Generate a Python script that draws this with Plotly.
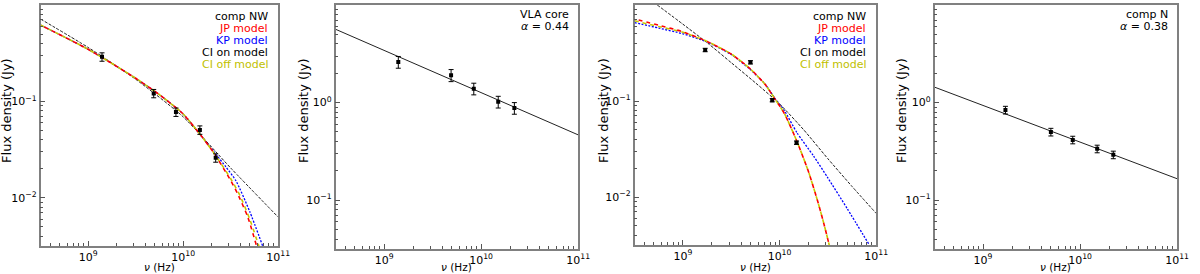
import plotly.graph_objects as go

# ---------------- data (frequency in Hz, flux density in Jy) ----------------
# Panel 1: comp NW, VLA
p1_freq = [1.4e9, 4.9e9, 8.4e9, 15.0e9, 22.0e9]
p1_flux = [0.29, 0.121, 0.0776, 0.0506, 0.026]
p1_err = [0.029, 0.012, 0.0078, 0.0051, 0.0026]

p1_jp_freq = [3.16e8, 1e9, 3.16e9, 5.62e9, 1e10, 1.585e10, 2.14e10, 3.16e10, 3.75e10, 4.79e10, 5.96e10]
p1_jp_flux = [0.619, 0.347, 0.174, 0.1175, 0.0741, 0.0427, 0.0285, 0.01514, 0.01096, 0.00631, 0.00309]
p1_kp_freq = [3.16e8, 1e9, 3.16e9, 5.62e9, 1e10, 1.585e10, 2.14e10, 2.82e10, 3.59e10, 5.01e10, 6.93e10]
p1_kp_flux = [0.619, 0.347, 0.174, 0.1175, 0.0741, 0.0427, 0.0295, 0.0209, 0.01503, 0.00724, 0.00309]
p1_cioff_freq = [3.16e8, 1e9, 3.16e9, 5.62e9, 1e10, 1.585e10, 2.14e10, 3.16e10, 3.98e10, 5.01e10, 6.31e10]
p1_cioff_flux = [0.619, 0.347, 0.174, 0.1175, 0.0741, 0.0427, 0.0285, 0.01585, 0.01047, 0.00603, 0.00309]
p1_cion_freq = [3.16e8, 1e9, 3.16e9, 1e10, 3.16e10, 1e11]
p1_cion_flux = [0.715, 0.363, 0.170, 0.0692, 0.0204, 0.0063]

# Panel 2: VLA core
p2_freq = [1.4e9, 4.9e9, 8.4e9, 15.0e9, 22.0e9]
p2_flux = [2.61, 1.91, 1.39, 1.02, 0.88]
p2_err = [0.36, 0.27, 0.19, 0.14, 0.12]
p2_fit_freq = [3.16e8, 1e11]
p2_fit_flux = [5.64, 0.467]

# Panel 3: comp NW, VLBA
p3_freq = [1.7e9, 5.0e9, 8.4e9, 15.0e9]
p3_flux = [0.34, 0.253, 0.102, 0.0368]
p3_err = [0.014, 0.010, 0.004, 0.0015]

p3_jp_freq = [3.16e8, 5.62e8, 1e9, 1.78e9, 3.16e9, 5.01e9, 7.08e9, 8.91e9, 1.122e10, 1.514e10, 2.0e10, 2.51e10, 2.88e10, 3.27e10]
p3_jp_flux = [0.715, 0.617, 0.525, 0.417, 0.309, 0.215, 0.149, 0.106, 0.0741, 0.0380, 0.0182, 0.0087, 0.00525, 0.00316]
p3_cioff_freq = [3.16e8, 5.62e8, 1e9, 1.78e9, 3.16e9, 5.01e9, 7.08e9, 8.91e9, 1.122e10, 1.514e10, 2.0e10, 2.51e10, 2.88e10, 3.27e10]
p3_cioff_flux = [0.684, 0.596, 0.520, 0.417, 0.309, 0.215, 0.149, 0.106, 0.0741, 0.0380, 0.0182, 0.0087, 0.00525, 0.00316]
p3_kp_freq = [3.16e8, 5.62e8, 1e9, 1.78e9, 3.16e9, 5.01e9, 7.08e9, 8.91e9, 1.122e10, 1.514e10, 2.24e10, 3.16e10, 5.01e10, 8.51e10]
p3_kp_flux = [0.655, 0.575, 0.501, 0.412, 0.305, 0.212, 0.150, 0.1076, 0.0794, 0.0468, 0.0269, 0.01585, 0.00759, 0.00316]
p3_cion_freq = [5.43e8, 1e9, 1.82e9, 3.16e9, 5.62e9, 1e10, 1.78e10, 3.16e10, 5.62e10, 1e11]
p3_cion_flux = [1.0, 0.631, 0.398, 0.251, 0.155, 0.0933, 0.0501, 0.0251, 0.0129, 0.00676]

# Panel 4: comp N
p4_freq = [1.7e9, 5.0e9, 8.4e9, 15.0e9, 22.0e9]
p4_flux = [0.84, 0.50, 0.415, 0.336, 0.292]
p4_err = [0.076, 0.045, 0.037, 0.030, 0.026]
p4_fit_freq = [3.16e8, 1e11]
p4_fit_flux = [1.44, 0.166]

# axis ticks
x_tickvals = [1e9, 1e10, 1e11]
x_ticktext = ["10<sup>9</sup>", "10<sup>10</sup>", "10<sup>11</sup>"]
y_tickvals_a = [1e-2, 1e-1, 1e0]
y_ticktext_a = ["10<sup>−2</sup>", "10<sup>−1</sup>", "10<sup>0</sup>"]
y_tickvals_b = [1e-1, 1e0, 1e1]
y_ticktext_b = ["10<sup>−1</sup>", "10<sup>0</sup>", "10<sup>1</sup>"]

legend_labels = ["comp NW", "JP model", "KP model", "CI on model", "CI off model"]
legend_colors = ["black", "#ff0000", "#0000ff", "black", "#bfbf00"]

# ---------------- figure ----------------
W, H = 1200, 274
FONT = "DejaVu Sans"
RED, BLUE, YEL = "#ff0000", "#0000ff", "#c8c800"

# plot-area rectangles in pixels: (left, right, top, bottom)
boxes = [(41, 281, 5, 246), (339, 584, 5, 249), (641, 885, 5, 245), (944, 1189, 5, 249)]

fig = go.Figure()

def add_line(i, x, y, color, dash, width):
    fig.add_trace(go.Scatter(x=x, y=y, mode="lines", line=dict(color=color, dash=dash, width=width, shape="spline", smoothing=0.6),
                             xaxis=f"x{i}", yaxis=f"y{i}", showlegend=False, hoverinfo="skip"))

def add_points(i, x, y, e):
    fig.add_trace(go.Scatter(x=x, y=y, mode="markers", marker=dict(color="black", size=4, symbol="square"),
                             error_y=dict(type="data", array=e, color="black", thickness=1, width=2.5),
                             xaxis=f"x{i}", yaxis=f"y{i}", showlegend=False))

# panel 1
add_line(1, p1_kp_freq, p1_kp_flux, BLUE, "2px,1.5px", 1.3)
add_line(1, p1_cion_freq, p1_cion_flux, "black", "3px,1.5px", 0.9)
add_line(1, p1_cioff_freq, p1_cioff_flux, YEL, "4px,4px", 1.6)
add_line(1, p1_jp_freq, p1_jp_flux, RED, "0px,4px,4px,0px", 1.6)
add_points(1, p1_freq, p1_flux, p1_err)

# panel 2
add_line(2, p2_fit_freq, p2_fit_flux, "#222222", "solid", 1)
add_points(2, p2_freq, p2_flux, p2_err)

# panel 3
add_line(3, p3_kp_freq, p3_kp_flux, BLUE, "2px,1.5px", 1.3)
add_line(3, p3_cion_freq, p3_cion_flux, "black", "3px,1.5px", 0.9)
add_line(3, p3_cioff_freq, p3_cioff_flux, YEL, "4px,4px", 1.6)
add_line(3, p3_jp_freq, p3_jp_flux, RED, "0px,4px,4px,0px", 1.6)
add_points(3, p3_freq, p3_flux, p3_err)

# panel 4
add_line(4, p4_fit_freq, p4_fit_flux, "#222222", "solid", 1)
add_points(4, p4_freq, p4_flux, p4_err)

minor_x = [m * 10 ** e for e in range(8, 11) for m in range(2, 10)]
minor_y = [m * 10 ** e for e in range(-3, 1) for m in range(2, 10)]

layout = dict(width=W, height=H, margin=dict(l=0, r=0, t=0, b=0), paper_bgcolor="white", plot_bgcolor="white",
              font=dict(family=FONT, size=11, color="black"), showlegend=False)

annotations = []
for i, (l, r, t, b) in enumerate(boxes, start=1):
    sfx = "" if i == 1 else str(i)
    yr = [-2.5, 0] if i in (1, 3) else [-1.5, 1]
    common = dict(type="log", showline=True, linecolor="#808080", linewidth=1.5, mirror=True, showgrid=False,
                  zeroline=False, ticks="inside", ticklen=5, tickwidth=1, tickcolor="#555555",
                  tickfont=dict(family=FONT, size=11, color="black"),
                  minor=dict(ticks="inside", ticklen=3, tickwidth=1, tickcolor="#555555", tickmode="array"))
    xa = dict(common, domain=[l / W, r / W], range=[8.5, 11], anchor=f"y{sfx}" if sfx else "y",
              tickmode="array", tickvals=x_tickvals, ticktext=x_ticktext)
    xa["minor"] = dict(common["minor"], tickvals=minor_x)
    ya = dict(common, domain=[1 - b / H, 1 - t / H], range=yr, anchor=f"x{sfx}" if sfx else "x",
              tickmode="array",
              tickvals=y_tickvals_a if i in (1, 3) else y_tickvals_b,
              ticktext=y_ticktext_a if i in (1, 3) else y_ticktext_b)
    ya["minor"] = dict(common["minor"], tickvals=minor_y if i in (1, 3) else [v * 10 for v in minor_y])
    layout[f"xaxis{sfx}"] = xa
    layout[f"yaxis{sfx}"] = ya

    # axis titles
    annotations.append(dict(text="<i>ν</i> (Hz)", x=(l + r) / 2 / W, y=1 - 267 / H, xref="paper", yref="paper",
                            showarrow=False, font=dict(family=FONT, size=10.5), xanchor="center", yanchor="middle"))
    ytx = [6, 306, 609, 910][i - 1]
    annotations.append(dict(text="Flux density (Jy)", x=ytx / W, y=1 - 110 / H, xref="paper", yref="paper",
                            showarrow=False, textangle=-90, font=dict(family=FONT, size=13),
                            xanchor="center", yanchor="middle"))

# legends in panels 1 and 3
for i in (1, 3):
    l, r, t, b = boxes[i - 1]
    for k, (lab, col) in enumerate(zip(legend_labels, legend_colors)):
        annotations.append(dict(text=lab, x=(r - 8) / W, y=1 - (16 + 12.1 * k) / H, xref="paper", yref="paper",
                                showarrow=False, font=dict(family=FONT, size=11, color=col),
                                xanchor="right", yanchor="middle"))

# labels in panels 2 and 4
for i, (name, alpha) in ((2, ("VLA core", "0.44")), (4, ("comp N", "0.38"))):
    l, r, t, b = boxes[i - 1]
    annotations.append(dict(text=name, x=(r - 7) / W, y=1 - 15 / H, xref="paper", yref="paper", showarrow=False,
                            font=dict(family=FONT, size=11), xanchor="right", yanchor="middle"))
    annotations.append(dict(text=f"<i>α</i> = {alpha}", x=(r - 7) / W, y=1 - 26.5 / H, xref="paper", yref="paper",
                            showarrow=False, font=dict(family=FONT, size=11), xanchor="right", yanchor="middle"))

layout["annotations"] = annotations
fig.update_layout(**layout)
fig.write_html("out.html", config={"displayModeBar": False},
               post_script="document.body.style.margin='0';document.body.style.overflow='hidden';")
